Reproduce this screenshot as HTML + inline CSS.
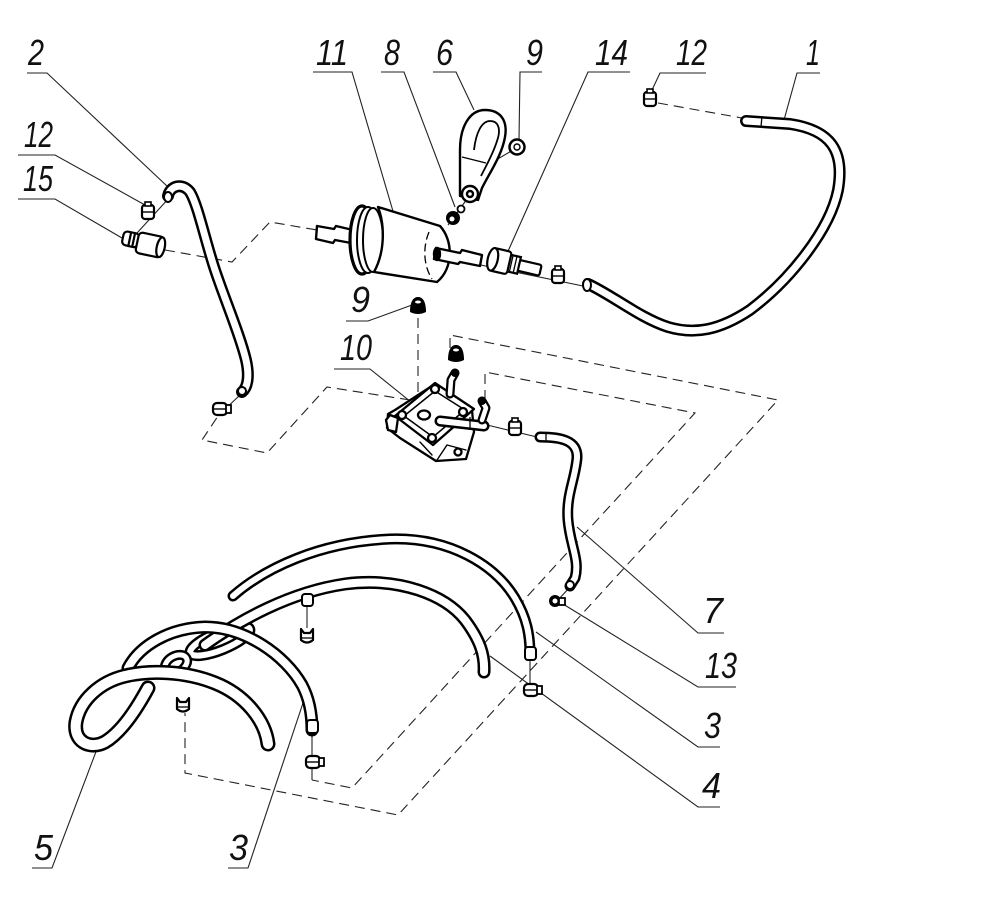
<!DOCTYPE html>
<html><head><meta charset="utf-8"><style>
html,body{margin:0;padding:0;background:#fff;}
svg{display:block}
text{font-family:"Liberation Sans",sans-serif;font-style:italic;font-size:36px;fill:#111}
</style></head><body>
<svg width="990" height="898" viewBox="0 0 990 898" xmlns="http://www.w3.org/2000/svg">
<rect width="990" height="898" fill="#fff"/>
<defs>
<g id="clip">
<rect x="-6" y="-7" width="12" height="14" rx="3" fill="#fff" stroke="#000" stroke-width="2.2"/>
<line x1="-5" y1="0" x2="5" y2="0" stroke="#000" stroke-width="1.4"/>
<rect x="-3" y="-10" width="6" height="4" fill="#fff" stroke="#000" stroke-width="1.6"/>
</g>
<g id="clipH">
<rect x="-8" y="-6" width="14" height="12" rx="4" fill="#fff" stroke="#000" stroke-width="2.2"/>
<line x1="-7" y1="0" x2="5" y2="0" stroke="#000" stroke-width="1.4"/>
<rect x="5" y="-4" width="5" height="8" fill="#fff" stroke="#000" stroke-width="1.8"/>
</g>
<g id="clipV">
<path d="M-6,-7 L-3,-3 L3,-3 L6,-7 L6,4 Q0,9 -6,4 Z" fill="#fff" stroke="#000" stroke-width="2.2" stroke-linejoin="round"/>
<line x1="-5" y1="2" x2="5" y2="2" stroke="#000" stroke-width="1.3"/>
</g>
</defs>

<!-- dashed lines -->
<g fill="none" stroke="#222" stroke-width="1.1" stroke-dasharray="10 6">
<path d="M165,250 L232,262 L270,222 L317,230"/>
<path d="M410,400 L327,387 L267,453 L202,440 L218,416"/>
<path d="M418,318 V396"/>
<path d="M450,348 V335 L778,400 L398,815 L185,773 V713"/>
<path d="M485,400 V372 L695,413 L352,788 L312,780"/>
<path d="M658,103 L742,118"/>
</g>

<!-- thin solid axis lines -->
<g fill="none" stroke="#222" stroke-width="1.1">
<path d="M137,233 L170,197"/>
<path d="M437,256 L583,286"/>
<path d="M448,225 L470,195"/>
<path d="M467,177 L513,150"/>
<path d="M483,424 L537,437"/>
<path d="M240,395 L222,412"/>
<path d="M570,587 L558,600"/>
<path d="M307,606 V628"/>
<path d="M312,733 V780"/>
<path d="M530,660 V688"/>
</g>

<!-- leaders & underlines -->
<g fill="none" stroke="#222" stroke-width="1.1">
<path d="M27,73 H47 L168,187"/>
<path d="M18,155 H55 L145,205"/>
<path d="M18,199 H55 L122,238"/>
<path d="M313,72 H352 L395,218"/>
<path d="M381,72 H404 L455,207"/>
<path d="M433,72 H456 L474,110"/>
<path d="M542,72 H520 L519,140"/>
<path d="M630,72 H588 L505,258"/>
<path d="M706,73 H660 L652,90"/>
<path d="M820,73 H797 L784,120"/>
<path d="M346,321 H368 L412,305"/>
<path d="M334,369 H370 L411,402"/>
<path d="M724,633 H698 L577,527"/>
<path d="M736,687 H698 L563,604"/>
<path d="M720,747 H698 L536,632"/>
<path d="M720,807 H698 L490,656"/>
<path d="M32,868 H52 L97,749"/>
<path d="M228,868 H248 L303,703"/>
</g>

<!-- labels -->
<text x="28" y="65" textLength="16" lengthAdjust="spacingAndGlyphs">2</text>
<text x="24" y="147" textLength="29" lengthAdjust="spacingAndGlyphs">12</text>
<text x="23" y="191" textLength="30" lengthAdjust="spacingAndGlyphs">15</text>
<text x="316" y="65" textLength="32" lengthAdjust="spacingAndGlyphs">11</text>
<text x="384" y="65" textLength="16" lengthAdjust="spacingAndGlyphs">8</text>
<text x="436" y="65" textLength="17" lengthAdjust="spacingAndGlyphs">6</text>
<text x="526" y="65" textLength="17" lengthAdjust="spacingAndGlyphs">9</text>
<text x="595" y="65" textLength="33" lengthAdjust="spacingAndGlyphs">14</text>
<text x="676" y="65" textLength="31" lengthAdjust="spacingAndGlyphs">12</text>
<text x="806" y="65" textLength="14" lengthAdjust="spacingAndGlyphs">1</text>
<text x="351" y="312" textLength="19" lengthAdjust="spacingAndGlyphs">9</text>
<text x="340" y="360" textLength="32" lengthAdjust="spacingAndGlyphs">10</text>
<text x="703" y="623" textLength="20" lengthAdjust="spacingAndGlyphs">7</text>
<text x="705" y="678" textLength="32" lengthAdjust="spacingAndGlyphs">13</text>
<text x="704" y="738" textLength="17" lengthAdjust="spacingAndGlyphs">3</text>
<text x="702" y="798" textLength="19" lengthAdjust="spacingAndGlyphs">4</text>
<text x="34" y="860" textLength="19" lengthAdjust="spacingAndGlyphs">5</text>
<text x="229" y="860" textLength="19" lengthAdjust="spacingAndGlyphs">3</text>

<!-- ===== HOSES ===== -->
<g fill="none" stroke-linecap="round" stroke-linejoin="round">
<!-- hose 1 -->
<path d="M746,121 L790,124 C830,130 845,150 838,190 C830,230 790,280 750,310 C720,330 695,335 668,327 C640,318 612,295 588,284" stroke="#000" stroke-width="12"/>
<path d="M746,121 L790,124 C830,130 845,150 838,190 C830,230 790,280 750,310 C720,330 695,335 668,327 C640,318 612,295 588,284" stroke="#fff" stroke-width="7"/>
<!-- hose 2 -->
<path d="M168,196 C170,186 182,182 190,192 C198,205 205,240 215,270 C225,300 240,335 246,360 C250,378 247,388 242,392" stroke="#000" stroke-width="12"/>
<path d="M168,196 C170,186 182,182 190,192 C198,205 205,240 215,270 C225,300 240,335 246,360 C250,378 247,388 242,392" stroke="#fff" stroke-width="7"/>
<!-- hose 7 -->
<path d="M540,437 C560,437 578,440 577,458 C575,480 566,495 568,520 C570,545 580,560 575,578 L570,586" stroke="#000" stroke-width="11"/>
<path d="M540,437 C560,437 578,440 577,458 C575,480 566,495 568,520 C570,545 580,560 575,578 L570,586" stroke="#fff" stroke-width="6"/>

<!-- ears -->
<ellipse cx="220" cy="641" rx="32" ry="9" transform="rotate(-22 220 641)" stroke="#000" stroke-width="11"/>
<ellipse cx="220" cy="641" rx="32" ry="9" transform="rotate(-22 220 641)" stroke="#fff" stroke-width="6"/>

<!-- hose 3 big arc -->
<path d="M233,596 C265,568 320,542 390,539 C450,537 495,565 515,598 C527,618 530,635 530,655" stroke="#000" stroke-width="11"/>
<path d="M233,596 C265,568 320,542 390,539 C450,537 495,565 515,598 C527,618 530,635 530,655" stroke="#fff" stroke-width="6"/>
<!-- hose 4 -->
<path d="M205,645 C240,620 290,592 345,584 C400,577 445,595 465,620 C480,640 485,655 484,672" stroke="#000" stroke-width="13"/>
<path d="M205,645 C240,620 290,592 345,584 C400,577 445,595 465,620 C480,640 485,655 484,672" stroke="#fff" stroke-width="8"/>

<ellipse cx="176" cy="664" rx="12" ry="8" transform="rotate(-30 176 664)" stroke="#000" stroke-width="10"/>
<ellipse cx="176" cy="664" rx="12" ry="8" transform="rotate(-30 176 664)" stroke="#fff" stroke-width="5"/>

<!-- hose 3 left -->
<path d="M128,668 C140,645 170,628 205,627 C245,627 285,655 302,685 C310,700 312,715 312,730" stroke="#000" stroke-width="13"/>
<path d="M128,668 C140,645 170,628 205,627 C245,627 285,655 302,685 C310,700 312,715 312,730" stroke="#fff" stroke-width="8"/>
<!-- hose 5 -->
<path d="M268,744 C265,720 245,695 215,683 C185,671 150,670 125,676 C100,682 80,700 76,722 C73,742 90,750 105,742 C120,733 135,712 148,688" stroke="#000" stroke-width="15"/>
<path d="M268,744 C265,720 245,695 215,683 C185,671 150,670 125,676 C100,682 80,700 76,722 C73,742 90,750 105,742 C120,733 135,712 148,688" stroke="#fff" stroke-width="10"/>
</g>

<!-- hose end details -->
<g fill="#fff" stroke="#000" stroke-width="2">
<ellipse cx="168" cy="197" rx="4" ry="5"/>
<circle cx="242" cy="391" r="4"/>
<circle cx="570" cy="585" r="4"/>
<ellipse cx="587" cy="285" rx="4" ry="6"/>
<line x1="762" y1="116" x2="761" y2="127" stroke-width="1.3"/>
<line x1="546" y1="432" x2="546" y2="442" stroke-width="1.3"/>
<rect x="302" y="594" width="11" height="12" rx="3"/>
<rect x="307" y="720" width="11" height="13" rx="3"/>
<rect x="525" y="647" width="11" height="13" rx="3"/>
</g>

<!-- clips -->
<use href="#clip" x="148" y="212"/>
<use href="#clipH" x="221" y="409"/>
<use href="#clip" x="558" y="276"/>
<use href="#clip" x="650" y="99"/>
<use href="#clip" x="515" y="428"/>
<use href="#clipV" x="307" y="636"/>
<use href="#clipV" x="183" y="705"/>
<use href="#clipH" x="314" y="762"/>
<use href="#clipH" x="532" y="690"/>
<g>
<circle cx="555" cy="601" r="6" fill="#000"/>
<circle cx="555" cy="601" r="2.5" fill="#fff"/>
<rect x="559" y="598" width="6" height="7" fill="#fff" stroke="#000" stroke-width="1.8"/>
</g>

<!-- fitting 15 -->
<g stroke="#000" stroke-width="2.2" fill="#fff" transform="rotate(12 143 244)">
<rect x="122" y="235" width="16" height="14" rx="4"/>
<line x1="129" y1="235" x2="129" y2="249"/>
<line x1="133" y1="235" x2="133" y2="249"/>
<rect x="137" y="233" width="26" height="21" rx="4"/>
<ellipse cx="161" cy="243.5" rx="4" ry="10"/>
</g>

<!-- filter 11 -->
<g stroke="#000" stroke-width="2.4" fill="#fff" stroke-linejoin="round">
<path d="M317,226 L334,229 L336,226 L353,230 L351,243 L335,240 L333,243 L316,239 Z"/>
<ellipse cx="362" cy="240" rx="12" ry="34" stroke-width="3.2"/>
<ellipse cx="368" cy="240" rx="11" ry="33" stroke-width="2"/>
<ellipse cx="373" cy="240" rx="10" ry="32" stroke-width="2"/>
<path d="M378,207 L440,226 C453,240 454,268 437,282 L374,272 C385,252 385,225 378,207 Z"/>
<path d="M429,232 C423,246 423,265 432,279" fill="none" stroke-width="1.3" stroke-dasharray="8 4"/>
<path d="M436,248 L460,253 L462,250 L482,255 L480,266 L460,262 L458,264 L434,259 Z"/>
<ellipse cx="437" cy="254" rx="3" ry="6" fill="#000"/>
</g>

<!-- fitting 14 -->
<g stroke="#000" stroke-width="2.2" fill="#fff" transform="rotate(13 515 265)">
<rect x="518" y="259" width="23" height="11" rx="2"/>
<rect x="507" y="256" width="12" height="17"/>
<line x1="511" y1="256" x2="511" y2="273" stroke-width="1.3"/>
<line x1="515" y1="256" x2="515" y2="273" stroke-width="1.3"/>
<rect x="491" y="253" width="18" height="23" rx="3"/>
<ellipse cx="492" cy="264.5" rx="5" ry="11.5"/>
</g>

<!-- clamp 6 -->
<g stroke="#000" stroke-width="2.4" fill="#fff" stroke-linejoin="round">
<path d="M460,196 L460,150 C460,126 470,110 485,110 C500,110 508,120 505,137 C502,155 490,172 482,188 L478,200 Z"/>
<path d="M474,150 C476,132 482,121 490,121 C499,121 501,130 497,141 C493,154 487,164 481,176" fill="none" stroke-width="1.8"/>
<path d="M462,157 L486,163" fill="none" stroke-width="1.4"/>
<circle cx="470" cy="194" r="8"/>
<circle cx="470" cy="194" r="3"/>
</g>

<!-- nuts -->
<circle cx="517" cy="147" r="7.5" fill="#fff" stroke="#000" stroke-width="2.5"/>
<circle cx="517" cy="147" r="3" fill="#fff" stroke="#000" stroke-width="1.4"/>
<circle cx="453" cy="218" r="7" fill="#000"/>
<circle cx="452" cy="219" r="2.5" fill="#fff"/>
<circle cx="461" cy="209" r="3.5" fill="#fff" stroke="#000" stroke-width="1.8"/>
<path d="M410,312 C410,302 413,297 418,297 C423,297 426,302 426,312 Q418,316 410,312 Z" fill="#000"/>
<ellipse cx="418" cy="302" rx="3" ry="1.5" fill="#fff"/>
<path d="M448,360 C448,350 451,345 456,345 C461,345 464,350 464,360 Q456,364 448,360 Z" fill="#000"/>
<ellipse cx="456" cy="350" rx="3" ry="1.5" fill="#fff"/>

<!-- pump 10 -->
<g stroke="#000" stroke-width="2.3" fill="#fff" stroke-linejoin="round" stroke-linecap="round">
<path d="M395,410 L388,414 L387,428 L400,438 L436,461 L466,459 L474,432 L472,410 L435,384 Z"/>
<path d="M435,383 L474,409 L433,445 L395,416 Z"/>
<path d="M435,391 L465,410 L433,437 L404,416 Z" fill="none" stroke-width="1.5"/>
<circle cx="435" cy="389" r="4"/>
<circle cx="402" cy="415" r="4"/>
<circle cx="432" cy="438" r="4"/>
<circle cx="463" cy="412" r="4"/>
<ellipse cx="424" cy="415" rx="6" ry="4.5"/>
<path d="M420,442 L432,455 M437,460 L447,445 L466,450 M454,452 L457,455" fill="none" stroke-width="1.4"/>
<circle cx="458" cy="452" r="3.5"/>
<path d="M390,415 L386,420 L388,430 L396,432 L398,418 Z"/>
</g>
<g fill="none" stroke-linecap="round" stroke-linejoin="round">
<path d="M440,421 L484,426" stroke="#000" stroke-width="11"/>
<path d="M440,421 L484,426" stroke="#fff" stroke-width="6"/>
<path d="M450,394 L451,380 L455,373" stroke="#000" stroke-width="9"/>
<path d="M450,394 L451,380 L455,373" stroke="#fff" stroke-width="4.5"/>
<path d="M482,420 L486,408 L482,401" stroke="#000" stroke-width="9"/>
<path d="M482,420 L486,408 L482,401" stroke="#fff" stroke-width="4.5"/>
</g>
<circle cx="455" cy="373" r="4" fill="#000"/>
<circle cx="482" cy="401" r="4" fill="#000"/>
<line x1="470" y1="417" x2="470" y2="430" stroke="#000" stroke-width="1.3"/>
</svg>
</body></html>
